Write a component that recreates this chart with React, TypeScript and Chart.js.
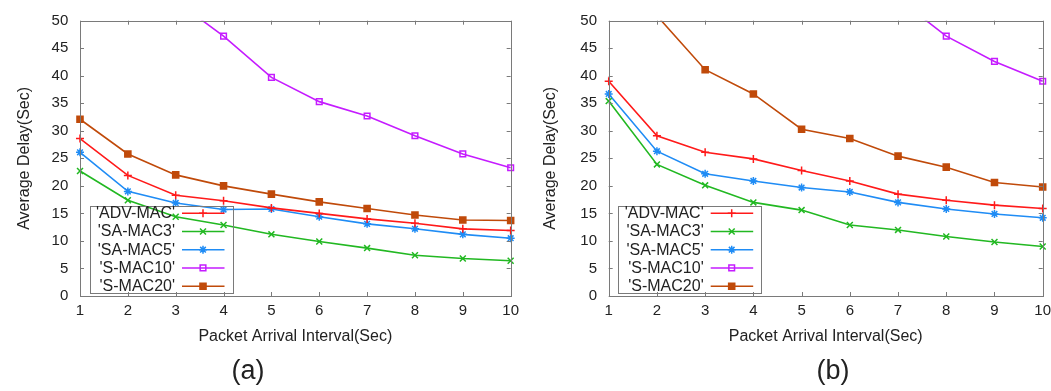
import React, { useEffect, useRef } from 'react';
import { Chart, registerables } from 'chart.js';

Chart.register(...registerables);

// ---------- data ----------
const intervals = [1, 2, 3, 4, 5, 6, 7, 8, 9, 10];
const seriesNames = ["'ADV-MAC'", "'SA-MAC3'", "'SA-MAC5'", "'S-MAC10'", "'S-MAC20'"];

// panel (a)
const advA = [28.6, 21.9, 18.3, 17.3, 16.0, 15.0, 14.0, 13.2, 12.2, 11.9];
const saMac3A = [22.7, 17.4, 14.4, 12.9, 11.2, 9.9, 8.7, 7.4, 6.8, 6.4];
const saMac5A = [26.1, 19.0, 16.9, 15.7, 15.8, 14.4, 13.1, 12.2, 11.2, 10.5];
const sMac10A = [68, 60, 53.6, 47.2, 39.7, 35.3, 32.7, 29.1, 25.8, 23.3];
const sMac20A = [32.1, 25.8, 22.0, 20.0, 18.5, 17.1, 15.9, 14.7, 13.8, 13.7];

// panel (b)
const advB = [39.0, 29.1, 26.1, 24.9, 22.8, 20.9, 18.5, 17.4, 16.5, 15.9];
const saMac3B = [35.4, 23.9, 20.1, 17.0, 15.6, 12.9, 12.0, 10.8, 9.8, 9.0];
const saMac5B = [36.7, 26.3, 22.2, 20.9, 19.7, 18.9, 17.0, 15.8, 14.9, 14.2];
const sMac10B = [100, 88, 78, 70, 66, 60, 54, 47.2, 42.6, 39.0];
const sMac20B = [62, 50.9, 41.1, 36.7, 30.3, 28.6, 25.4, 23.4, 20.6, 19.8];

const yMin = 0;
const yMax = 50;
const yStep = 5;

// ---------- styles ----------
const FONT = "'Liberation Sans', Arial, Helvetica, sans-serif";
const TEXT = '#222222';
const FRAME = '#7a7a7a';
const colors = ['#ff1a1a', '#22b822', '#1f8cf5', '#c51cff', '#c04a0a'];
const markers = ['cross', 'crossRot', 'star', 'rect', 'rect'];
const filled = [false, false, false, false, true];
const radii = [4, 4.2, 4, 4, 4.3];

function drawMarker(ctx: CanvasRenderingContext2D, i: number, x: number, y: number) {
  const r = radii[i];
  ctx.save();
  ctx.strokeStyle = colors[i];
  ctx.fillStyle = colors[i];
  ctx.lineWidth = 1.5;
  ctx.beginPath();
  const m = markers[i];
  if (m === 'cross') {
    ctx.moveTo(x - r, y); ctx.lineTo(x + r, y);
    ctx.moveTo(x, y - r); ctx.lineTo(x, y + r);
    ctx.stroke();
  } else if (m === 'crossRot') {
    const o = r * Math.SQRT1_2;
    ctx.moveTo(x - o, y - o); ctx.lineTo(x + o, y + o);
    ctx.moveTo(x - o, y + o); ctx.lineTo(x + o, y - o);
    ctx.stroke();
  } else if (m === 'star') {
    const o = r * Math.SQRT1_2;
    ctx.moveTo(x - r, y); ctx.lineTo(x + r, y);
    ctx.moveTo(x, y - r); ctx.lineTo(x, y + r);
    ctx.moveTo(x - o, y - o); ctx.lineTo(x + o, y + o);
    ctx.moveTo(x - o, y + o); ctx.lineTo(x + o, y - o);
    ctx.stroke();
  } else {
    const s = r * Math.SQRT1_2;
    ctx.rect(x - s, y - s, 2 * s, 2 * s);
    if (filled[i]) ctx.fill();
    ctx.stroke();
  }
  ctx.restore();
}

const framePlugin = {
  id: 'gnuFrame',
  afterDatasetsDraw(chart: any) {
    const { ctx, chartArea: ca, scales } = chart;
    ctx.save();
    ctx.strokeStyle = FRAME;
    ctx.lineWidth = 1;
    ctx.strokeRect(Math.round(ca.left) + 0.5, Math.round(ca.top) + 0.5,
      Math.round(ca.right - ca.left), Math.round(ca.bottom - ca.top));
    const tl = 4;
    ctx.beginPath();
    for (const v of intervals) {
      const x = Math.round(scales.x.getPixelForValue(v)) + 0.5;
      ctx.moveTo(x, ca.top); ctx.lineTo(x, ca.top + tl);
      ctx.moveTo(x, ca.bottom); ctx.lineTo(x, ca.bottom - tl);
    }
    for (let v = yMin; v <= yMax; v += yStep) {
      const y = Math.round(scales.y.getPixelForValue(v)) + 0.5;
      ctx.moveTo(ca.left, y); ctx.lineTo(ca.left + tl, y);
      ctx.moveTo(ca.right, y); ctx.lineTo(ca.right - tl, y);
    }
    ctx.stroke();
    ctx.restore();
  },
  afterDraw(chart: any) {
    const { ctx, chartArea: ca } = chart;
    const boxL = ca.left + 9.5;
    const boxR = ca.left + 152.5;
    const boxT = ca.top + 185.5;
    const boxB = ca.bottom - 2.5;
    ctx.save();
    ctx.strokeStyle = FRAME;
    ctx.lineWidth = 1;
    ctx.strokeRect(Math.round(boxL) + 0.5, Math.round(boxT) + 0.5,
      Math.round(boxR - boxL), Math.round(boxB - boxT));
    ctx.font = `16px ${FONT}`;
    ctx.fillStyle = TEXT;
    ctx.textAlign = 'right';
    ctx.textBaseline = 'middle';
    seriesNames.forEach((name, i) => {
      const y = ca.top + 192.5 + i * 18.25;
      ctx.fillStyle = TEXT;
      ctx.fillText(name, ca.left + 95, y + 0.5);
      ctx.strokeStyle = colors[i];
      ctx.lineWidth = 1.5;
      ctx.beginPath();
      ctx.moveTo(ca.left + 102, y);
      ctx.lineTo(ca.left + 144.5, y);
      ctx.stroke();
      drawMarker(ctx, i, ca.left + 123, y);
    });
    ctx.restore();
  },
};

function makeDatasets(series: number[][]) {
  return series.map((vals, i) => ({
    label: seriesNames[i],
    data: intervals.map((x, k) => ({ x, y: vals[k] })),
    borderColor: colors[i],
    backgroundColor: colors[i],
    borderWidth: 1.6,
    pointStyle: markers[i],
    pointRadius: radii[i],
    pointBorderWidth: 1.5,
    pointBorderColor: colors[i],
    pointBackgroundColor: filled[i] ? colors[i] : 'rgba(0,0,0,0)',
    tension: 0,
    clip: { left: 8, right: 8, top: 0, bottom: 8 },
  }));
}

type PanelProps = {
  series: number[][];
  left: number;
  canvasWidth: number;
  axisWidth: number;
  padRight: number;
  yTitleOffset: number;
};

function Panel({ series, left, canvasWidth, axisWidth, padRight, yTitleOffset }: PanelProps) {
  const ref = useRef<HTMLCanvasElement | null>(null);
  useEffect(() => {
    if (!ref.current) return;
    const chart = new Chart(ref.current, {
      type: 'line',
      data: { datasets: makeDatasets(series) as any },
      options: {
        animation: false,
        responsive: false,
        devicePixelRatio: 1,
        events: [],
        layout: { padding: { top: 18.7, right: padRight, bottom: 45, left: 0 } },
        plugins: { legend: { display: false }, tooltip: { enabled: false } },
        scales: {
          x: {
            type: 'linear',
            min: 1,
            max: 10,
            grid: { display: false, drawTicks: false },
            border: { display: false },
            ticks: {
              stepSize: 1,
              padding: 6,
              color: TEXT,
              font: { family: FONT, size: 15 },
            },
            title: {
              display: true,
              text: 'Packet Arrival Interval(Sec)',
              color: TEXT,
              font: { family: FONT, size: 16 },
              padding: { top: 0, bottom: 0 },
            },
            afterFit: (s: any) => { s.height = 50; },
          },
          y: {
            type: 'linear',
            min: yMin,
            max: yMax,
            grid: { display: false, drawTicks: false },
            border: { display: false },
            ticks: {
              stepSize: yStep,
              padding: 11.7,
              color: TEXT,
              font: { family: FONT, size: 15 },
            },
            title: {
              display: true,
              text: 'Average Delay(Sec)',
              color: TEXT,
              font: { family: FONT, size: 16 },
              padding: { top: yTitleOffset - 9.6, bottom: 0 },
            },
            afterFit: (s: any) => { s.width = axisWidth; },
          },
        },
      } as any,
      plugins: [framePlugin],
    });
    return () => chart.destroy();
  }, []);
  return (
    <div style={{ position: 'absolute', left, top: 0, width: canvasWidth, height: 391 }}>
      <canvas ref={ref} width={canvasWidth} height={391} style={{ width: canvasWidth, height: 391, display: 'block' }} />
    </div>
  );
}

export default function App() {
  useEffect(() => {
    document.body.style.margin = '0';
    document.body.style.background = '#ffffff';
  }, []);
  const capStyle = (cx: number): React.CSSProperties => ({
    position: 'absolute',
    left: cx - 40,
    width: 80,
    top: 354,
    textAlign: 'center',
    fontFamily: FONT,
    fontSize: 27,
    lineHeight: '32px',
    color: TEXT,
  });
  return (
    <div style={{ position: 'relative', width: 1051, height: 391, overflow: 'hidden', background: '#fff', margin: 0 }}>
      <Panel series={[advA, saMac3A, saMac5A, sMac10A, sMac20A]} left={0} canvasWidth={525}
        axisWidth={80} padRight={12.7} yTitleOffset={24.5} />
      <Panel series={[advB, saMac3B, saMac5B, sMac10B, sMac20B]} left={525} canvasWidth={540}
        axisWidth={83.7} padRight={22.3} yTitleOffset={26} />
      <div style={capStyle(248)}>(a)</div>
      <div style={capStyle(833)}>(b)</div>
    </div>
  );
}
